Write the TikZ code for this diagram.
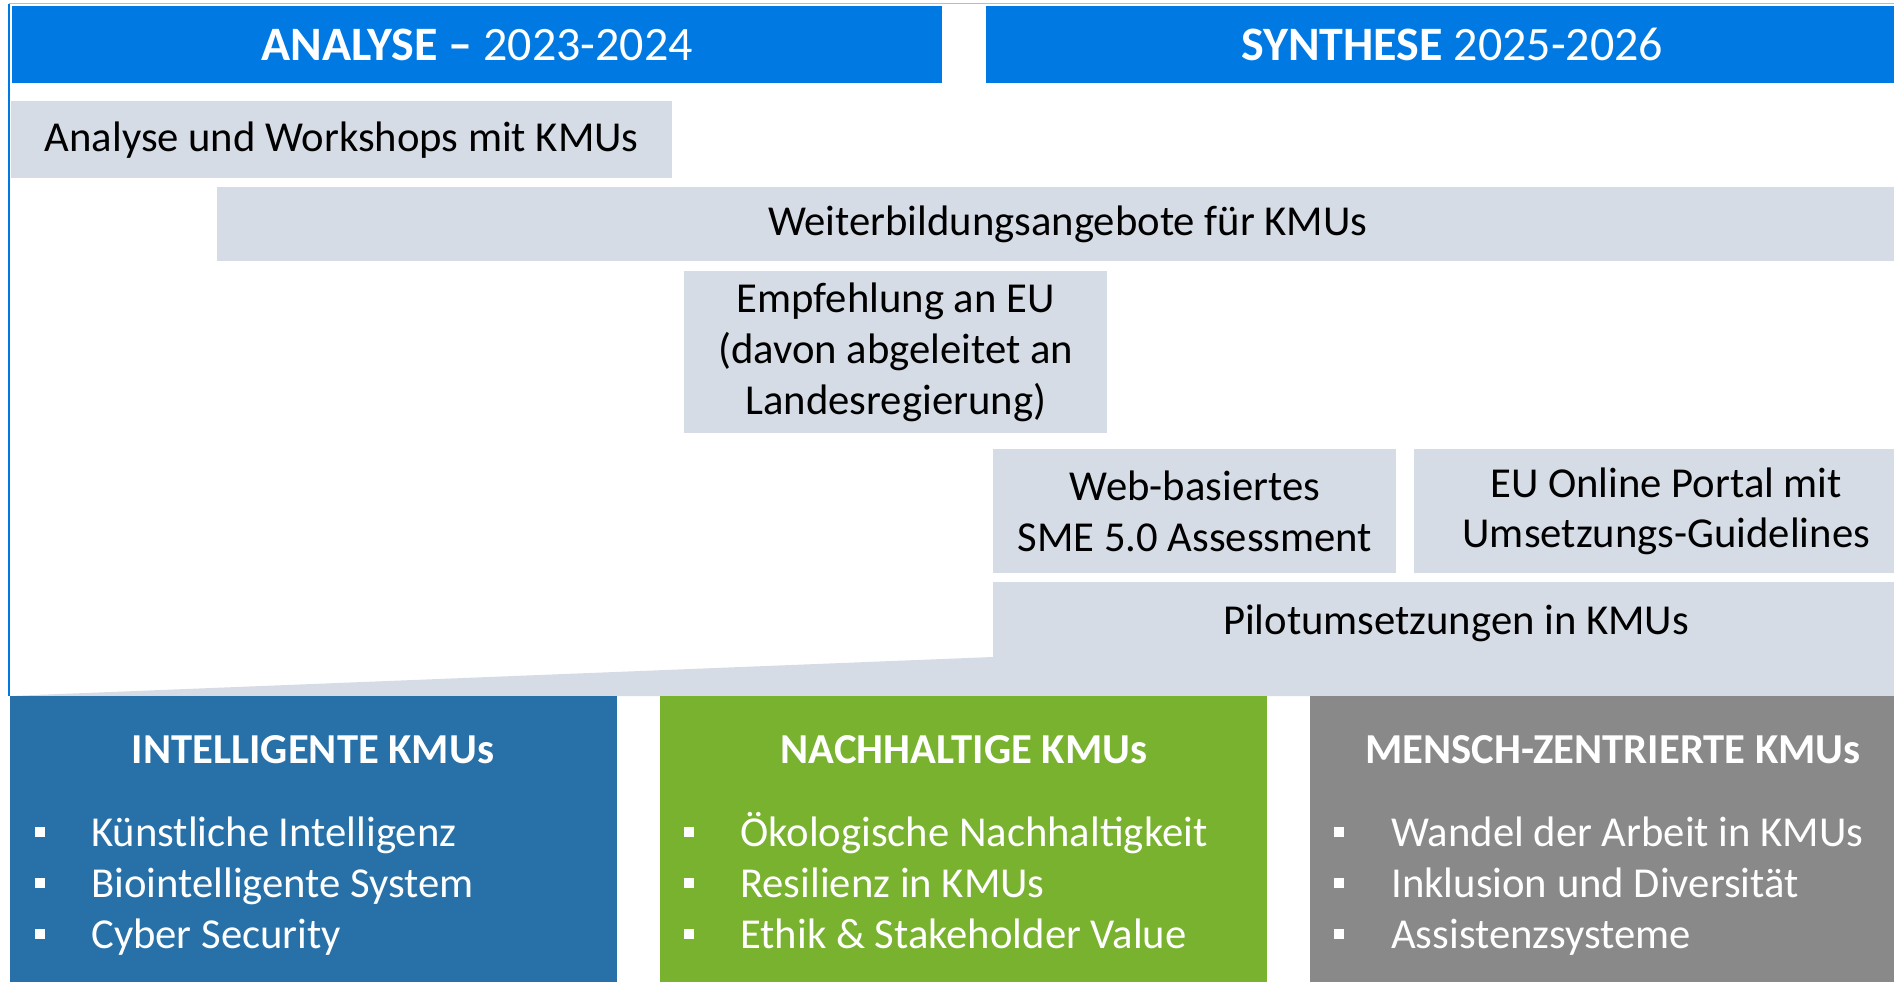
\documentclass[tikz,border=0pt]{standalone}
\usepackage{fontspec}
\setmainfont{Carlito}
\usepackage{tikz}
\usetikzlibrary{positioning}
\definecolor{headblue}{RGB}{0,122,226}
\definecolor{framelight}{RGB}{157,195,230}
\definecolor{barfill}{RGB}{214,220,229}
\definecolor{smartblue}{RGB}{39,113,168}
\definecolor{greenbox}{RGB}{120,178,46}
\definecolor{humangray}{RGB}{137,137,137}
\newlength\px
\setlength\px{0.75pt}
\newcommand\bodyfont{\fontsize{32}{38}\selectfont}
\newcommand\headfont{\fontsize{36}{42}\selectfont}
\newcommand\titlefont{\fontsize{32}{38}\selectfont\bfseries}

\begin{document}
\begin{tikzpicture}[x=0.75pt, y=-0.75pt,
    band/.style={fill=headblue, text=white, inner sep=0, anchor=north west, font=\headfont},
    bar/.style={fill=barfill, inner sep=0, anchor=north west, align=center, font=\bodyfont},
    pillar/.style={inner sep=0, anchor=north west, minimum width=607\px, minimum height=290\px},
    pillartitle/.style={text=white, anchor=base, inner sep=0, font=\titlefont},
    item/.style={text=white, anchor=base west, inner sep=0, font=\bodyfont},
    dot/.style={fill=white, minimum size=10\px, inner sep=0}]
        % Page and frame
        \clip (0,0) rectangle (1894,981);
        \fill[white] (0,0) rectangle (1894,981);
        \draw[framelight, line width=1\px] (9,4) -- (1918,4);
        \draw[headblue, line width=2\px] (9,4) -- (9,696);
        % Phase headers
        \node[band, minimum width=930\px, minimum height=77\px] (analyse) at (12,6) {\textbf{ANALYSE –} 2023-2024};
        \node[band, minimum width=932\px, minimum height=77\px] (synthese) at (986,6) {\textbf{SYNTHESE} 2025-2026};
        % Work packages
        \node[bar, minimum width=661\px, minimum height=77\px] (workshops) at (11,101) {Analyse und Workshops mit KMUs};
        \node[bar, minimum width=1701\px, minimum height=74\px] (training) at (217,187) {Weiterbildungsangebote für KMUs};
        \node[bar, minimum width=423\px, minimum height=162\px] (recommend) at (684,271) {Empfehlung an EU\\(davon abgeleitet an\\Landesregierung)};
        \node[bar, minimum width=403\px, minimum height=124\px] (assessment) at (993,449) {Web-basiertes\\SME 5.0 Assessment};
        \node[bar, minimum width=504\px, minimum height=124\px] (portal) at (1414,449) {EU Online Portal mit\\Umsetzungs-Guidelines};
        % Pilot wedge spreading over the pillars
        \fill[barfill] (993,582) -- (1918,582) -- (1918,696) -- (10,696) -- (993,657) -- cycle;
        \node[font=\bodyfont, anchor=base, inner sep=0] (pilot) at (1456,634) {Pilotumsetzungen in KMUs};
        % Pillars
        \node[pillar, fill=smartblue] (smart) at (10,696) {};
        \node[pillar, fill=greenbox] (green) at (660,696) {};
        \node[pillar, fill=humangray] (human) at (1310,696) {};
        \node[pillartitle] (smarttitle) at (313,763) {INTELLIGENTE KMUs};
        \node[pillartitle] (greentitle) at (964,763) {NACHHALTIGE KMUs};
        \node[pillartitle] (humantitle) at (1613,763) {MENSCH-ZENTRIERTE KMUs};
        % Bullet lists
        \node[dot] (smart1b) at (40,832) {};
        \node[dot] (smart2b) at (40,883) {};
        \node[dot] (smart3b) at (40,934) {};
        \node[item] (smart1) at (91,846) {Künstliche Intelligenz};
        \node[item] (smart2) at (91,897) {Biointelligente System};
        \node[item] (smart3) at (91,948) {Cyber Security};
        \node[dot] (green1b) at (689,832) {};
        \node[dot] (green2b) at (689,883) {};
        \node[dot] (green3b) at (689,934) {};
        \node[item] (green1) at (740,846) {Ökologische Nachhaltigkeit};
        \node[item] (green2) at (740,897) {Resilienz in KMUs};
        \node[item] (green3) at (740,948) {Ethik \& Stakeholder Value};
        \node[dot] (human1b) at (1339,832) {};
        \node[dot] (human2b) at (1339,883) {};
        \node[dot] (human3b) at (1339,934) {};
        \node[item] (human1) at (1391,846) {Wandel der Arbeit in KMUs};
        \node[item] (human2) at (1391,897) {Inklusion und Diversität};
        \node[item] (human3) at (1391,948) {Assistenzsysteme};
\end{tikzpicture}
\end{document}
